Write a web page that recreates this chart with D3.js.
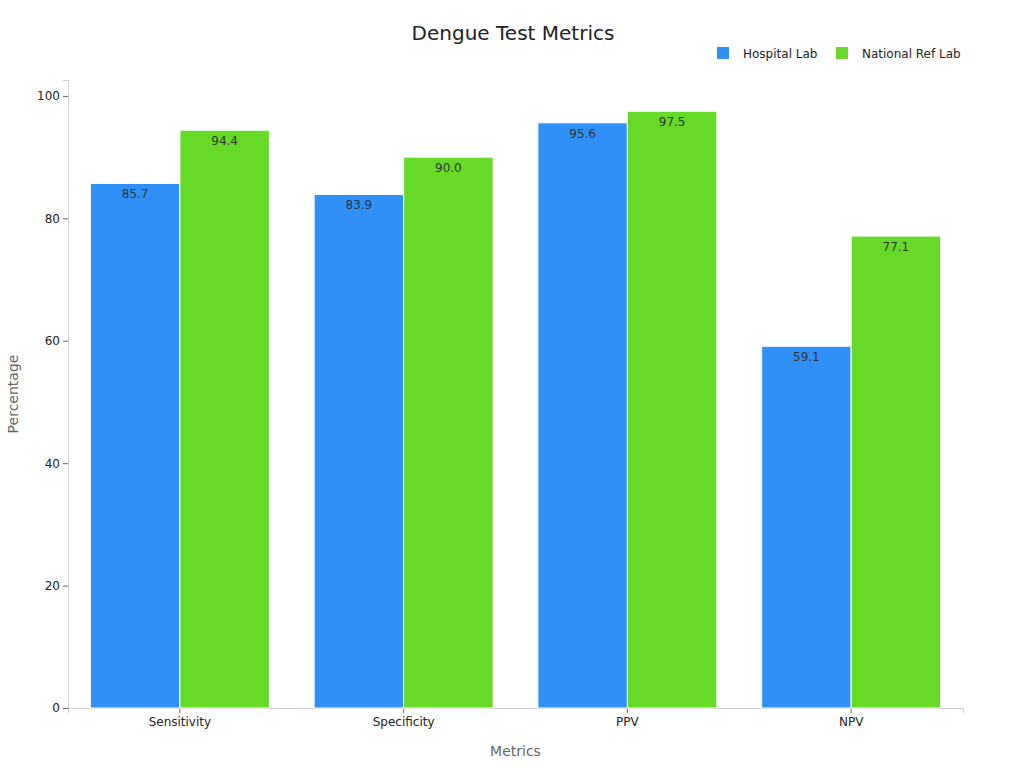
<!DOCTYPE html>
<html>
<head>
<meta charset="UTF-8" />
<title>Dengue Test Metrics</title>
<style>
  body { margin: 0; padding: 0; background: #fff; font-family: 'DejaVu Sans', sans-serif; }
</style>
</head>
<body>
<div class="container"></div>
<script src="https://cdnjs.cloudflare.com/ajax/libs/d3/7.8.5/d3.min.js"></script>
<script>
  const metrics = ['Sensitivity', 'Specificity', 'PPV', 'NPV'];
  const seriesNames = ['Hospital Lab', 'National Ref Lab'];
  const hospitalLab = [85.7, 83.9, 95.6, 59.1];
  const nationalRefLab = [94.4, 90.0, 97.5, 77.1];
  const yTicks = [0, 20, 40, 60, 80, 100];
  const colors = ['#2f91f7', '#66da26'];

  const width = 1024, height = 768;
  const margin = { top: 80, right: 61, bottom: 60, left: 68 };

  const svg = d3.select('.container').append('svg')
    .attr('width', width)
    .attr('height', height);

  const x = d3.scaleBand()
    .domain(metrics)
    .range([margin.left, width - margin.right])
    .paddingInner(0.2)
    .paddingOuter(0.1);

  const xSub = d3.scaleBand()
    .domain(seriesNames)
    .range([0, x.bandwidth()]);

  const y = d3.scaleLinear()
    .domain([0, 102.6])
    .range([height - margin.bottom, margin.top]);

  const values = [hospitalLab, nationalRefLab];

  // axes
  const yAxis = svg.append('g')
    .attr('transform', `translate(${margin.left},0)`)
    .call(d3.axisLeft(y).tickValues(yTicks).tickSize(5).tickPadding(3));
  const xAxis = svg.append('g')
    .attr('transform', `translate(0,${height - margin.bottom})`)
    .call(d3.axisBottom(x).tickSize(5).tickPadding(4));

  [yAxis, xAxis].forEach(g => {
    g.select('.domain').attr('stroke', '#ccc');
    g.selectAll('.tick line').attr('stroke', '#666');
    g.selectAll('.tick text').attr('fill', '#222').attr('font-size', 12)
      .attr('font-family', 'DejaVu Sans, sans-serif');
  });

  // bars
  seriesNames.forEach((name, si) => {
    const g = svg.append('g');
    g.selectAll('rect')
      .data(metrics)
      .join('rect')
      .attr('x', d => x(d) + xSub(name))
      .attr('y', (d, i) => y(values[si][i]))
      .attr('width', xSub.bandwidth())
      .attr('height', (d, i) => y(0) - y(values[si][i]))
      .attr('fill', colors[si])
      .attr('stroke', '#fff')
      .attr('stroke-width', 1);
    g.selectAll('text')
      .data(metrics)
      .join('text')
      .attr('x', d => x(d) + xSub(name) + xSub.bandwidth() / 2)
      .attr('y', (d, i) => y(values[si][i]) + 15)
      .attr('text-anchor', 'middle')
      .attr('font-size', 12)
      .attr('fill', '#333')
      .text((d, i) => values[si][i].toFixed(1));
  });

  // titles
  svg.append('text')
    .attr('x', 513).attr('y', 40)
    .attr('text-anchor', 'middle')
    .attr('font-size', 20)
    .attr('fill', '#222')
    .text('Dengue Test Metrics');

  svg.append('text')
    .attr('x', (margin.left + width - margin.right) / 2).attr('y', 756)
    .attr('text-anchor', 'middle')
    .attr('font-size', 14)
    .attr('fill', '#666')
    .text('Metrics');

  svg.append('text')
    .attr('transform', `translate(18,${(margin.top + height - margin.bottom) / 2}) rotate(-90)`)
    .attr('text-anchor', 'middle')
    .attr('font-size', 14)
    .attr('fill', '#666')
    .text('Percentage');

  // legend
  const legendX = [717, 836];
  seriesNames.forEach((name, i) => {
    const lg = svg.append('g').attr('transform', `translate(${legendX[i]},47)`);
    lg.append('rect').attr('width', 12).attr('height', 12).attr('fill', colors[i]);
    lg.append('text').attr('x', 26).attr('y', 11)
      .attr('font-size', 12).attr('fill', '#222').text(name);
  });
</script>
</body>
</html>
